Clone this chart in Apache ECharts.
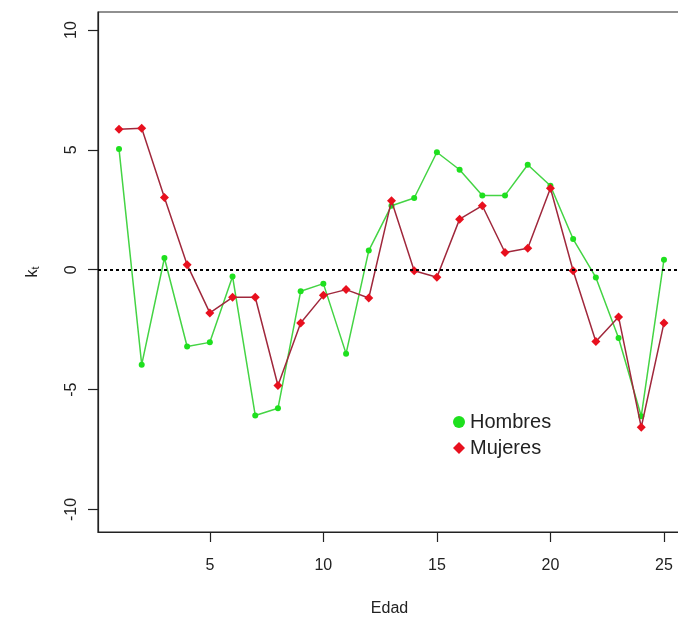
<!DOCTYPE html>
<html>
<head>
<meta charset="utf-8">
<script src="https://cdn.jsdelivr.net/npm/echarts@6/dist/echarts.min.js"></script>
<style>html,body{margin:0;padding:0;background:#fff;overflow:hidden;}#c{width:678px;height:621px;}</style>
</head>
<body>
<div id="c"></div>
<script>
var edad = [1,2,3,4,5,6,7,8,9,10,11,12,13,14,15,16,17,18,19,20,21,22,23,24,25];
var hombres = [5.04,-3.96,0.49,-3.2,-3.03,-0.28,-6.08,-5.78,-0.9,-0.58,-3.5,0.8,2.67,2.99,4.9,4.17,3.1,3.1,4.38,3.5,1.28,-0.32,-2.85,-6.11,0.42];
var mujeres = [5.86,5.9,3.01,0.21,-1.8,-1.15,-1.15,-4.83,-2.22,-1.07,-0.83,-1.18,2.88,-0.04,-0.31,2.11,2.67,0.72,0.9,3.4,-0.04,-2.99,-1.97,-6.57,-2.22];
var xTicks = [5,10,15,20,25];
var yTicks = [-10,-5,0,5,10];

function pairs(xs, ys){ return xs.map(function(x,i){ return [x, ys[i]]; }); }

var chart = echarts.init(document.getElementById('c'), null, {renderer:'canvas'});
var font = 'Liberation Sans, Arial, sans-serif';
chart.setOption({
  animation: false,
  backgroundColor: '#fff',
  grid: { left: 98, top: 12, right: -3, bottom: 89, show: true, borderColor: '#222', borderWidth: 1.2, backgroundColor: 'transparent', outerBoundsMode: 'none', containLabel: false },
  xAxis: {
    type: 'value', min: 0.075, max: 25.75,
    name: 'Edad', nameLocation: 'middle', nameGap: 69,
    nameTextStyle: { fontFamily: font, fontSize: 16, color: '#222' },
    axisLine: { show: true, onZero: false, lineStyle: { color: '#222', width: 1.2 } },
    axisTick: { show: true, length: 10, customValues: xTicks, lineStyle: { color: '#222', width: 1.2 } },
    axisLabel: { customValues: xTicks, fontFamily: font, fontSize: 16, color: '#222', margin: 26 },
    splitLine: { show: false }
  },
  yAxis: {
    type: 'value', min: -10.94, max: 10.75,
    name: '{a|k}{b|t}', nameLocation: 'middle', nameGap: 57, nameRotate: 90,
    nameTextStyle: { fontFamily: font, fontSize: 16, color: '#222',
      rich: { a: { fontFamily: font, fontSize: 16, color: '#222' }, b: { fontFamily: font, fontSize: 11, color: '#222', verticalAlign: 'bottom', padding: [6,0,0,0] } } },
    axisLine: { show: true, onZero: false, lineStyle: { color: '#222', width: 1.2 } },
    axisTick: { show: true, length: 10, customValues: yTicks, lineStyle: { color: '#222', width: 1.2 } },
    axisLabel: { customValues: yTicks, fontFamily: font, fontSize: 16, color: '#222', rotate: 90, margin: 18 },
    splitLine: { show: false }
  },
  legend: {
    orient: 'vertical', left: 448, top: 407, itemGap: 6, itemWidth: 12, itemHeight: 12,
    textStyle: { fontFamily: font, fontSize: 20, color: '#222' },
    data: [
      { name: 'Hombres', icon: 'circle', itemStyle: { color: '#1ee01e' } },
      { name: 'Mujeres', icon: 'diamond', itemStyle: { color: '#e8101e' } }
    ]
  },
  series: [
    {
      name: 'Hombres', type: 'line', data: pairs(edad, hombres),
      symbol: 'circle', symbolSize: 6,
      lineStyle: { color: '#44d444', width: 1.5 },
      itemStyle: { color: '#1ee01e' },
      markLine: {
        silent: true, symbol: 'none', label: { show: false },
        lineStyle: { color: '#000', type: [3,3], width: 2 },
        data: [{ yAxis: 0 }]
      },
      z: 2
    },
    {
      name: 'Mujeres', type: 'line', data: pairs(edad, mujeres),
      symbol: 'diamond', symbolSize: 9,
      lineStyle: { color: '#a0283c', width: 1.5 },
      itemStyle: { color: '#e8101e' },
      z: 3
    }
  ]
});
</script>
</body>
</html>
